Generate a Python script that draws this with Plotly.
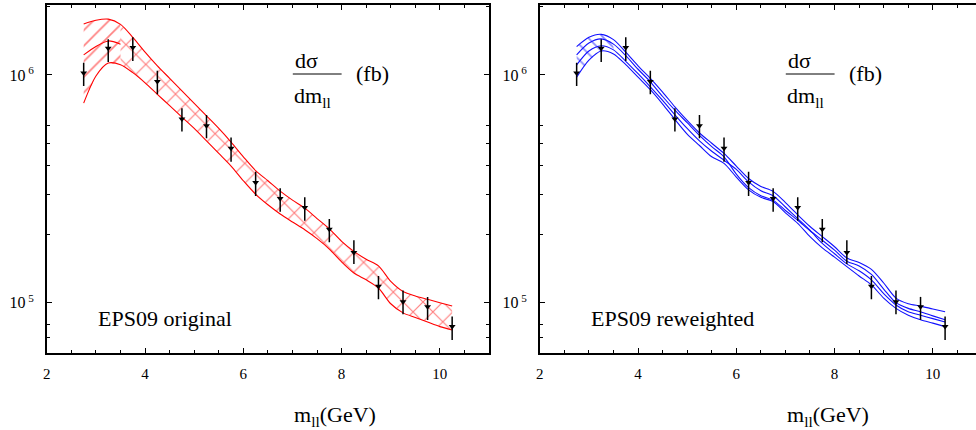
import plotly.graph_objects as go

# ---------------- data ----------------
x_data = [2.75, 3.25, 3.75, 4.25, 4.75, 5.25, 5.75, 6.25, 6.75, 7.25, 7.75, 8.25, 8.75, 9.25, 9.75, 10.25]
y_data = [1.02e6, 1.31e6, 1.32e6, 9.35e5, 6.41e5, 5.98e5, 4.76e5, 3.37e5, 2.87e5, 2.62e5, 2.10e5, 1.66e5, 1.18e5, 1.01e5, 9.6e4, 7.85e4]
err_up = [1.1e5, 1.25e5, 1.45e5, 1.07e5, 7.3e4, 6.9e4, 5.5e4, 3.9e4, 3.1e4, 2.8e4, 2.3e4, 2.2e4, 1.3e4, 1.2e4, 1.0e4, 8.5e3]
err_down = [1.25e5, 1.7e5, 1.7e5, 1.13e5, 7.7e4, 7.1e4, 6.0e4, 4.3e4, 3.6e4, 3.3e4, 2.6e4, 1.8e4, 1.45e4, 1.2e4, 1.2e4, 1.0e4]

x_band = [2.75, 3.0, 3.25, 3.5, 3.75, 4.0, 4.25, 4.5, 4.75, 5.0, 5.25, 5.5, 5.75, 6.0, 6.25, 6.5,
          6.75, 7.0, 7.25, 7.5, 7.75, 8.0, 8.25, 8.5, 8.75, 9.0, 9.25, 9.5, 9.75, 10.0, 10.25]

# EPS09 original (red band)
orig_upper = [1.675e6, 1.738e6, 1.758e6, 1.667e6, 1.462e6, 1.259e6, 1.096e6, 9.66e5, 8.51e5, 7.50e5,
              6.61e5, 5.82e5, 5.07e5, 4.37e5, 3.80e5, 3.43e5, 3.09e5, 2.82e5, 2.60e5, 2.34e5,
              2.11e5, 1.86e5, 1.68e5, 1.55e5, 1.45e5, 1.24e5, 1.12e5, 1.07e5, 1.035e5, 1.0e5, 9.66e4]
orig_lower = [7.52e5, 9.89e5, 1.127e6, 1.109e6, 1.023e6, 9.23e5, 8.22e5, 7.33e5, 6.53e5, 5.82e5,
              5.13e5, 4.52e5, 3.98e5, 3.43e5, 2.99e5, 2.69e5, 2.45e5, 2.26e5, 2.09e5, 1.91e5,
              1.72e5, 1.51e5, 1.35e5, 1.26e5, 1.16e5, 9.89e4, 9.02e4, 8.61e4, 8.22e4, 7.85e4, 7.59e4]
orig_mid_x = [2.75, 3.0, 3.25, 3.5]
orig_mid = [1.225e6, 1.334e6, 1.41e6, 1.365e6]

# EPS09 reweighted (blue curves)
rew_a = [1.330e6, 1.462e6, 1.507e6, 1.429e6, 1.259e6, 1.096e6, 9.66e5, 8.41e5, 7.24e5, 6.31e5,
         5.56e5, 5.01e5, 4.52e5, 3.98e5, 3.51e5, 3.24e5, 3.08e5, 2.75e5, 2.43e5, 2.16e5,
         1.95e5, 1.76e5, 1.57e5, 1.50e5, 1.40e5, 1.22e5, 1.047e5, 9.89e4, 9.66e4, 9.38e4, 9.12e4]
rew_b = [1.225e6, 1.380e6, 1.439e6, 1.365e6, 1.216e6, 1.059e6, 9.33e5, 8.04e5, 7.00e5, 6.17e5,
         5.43e5, 4.84e5, 4.37e5, 3.67e5, 3.20e5, 2.95e5, 2.82e5, 2.54e5, 2.30e5, 2.07e5,
         1.88e5, 1.70e5, 1.52e5, 1.45e5, 1.33e5, 1.148e5, 1.0e5, 9.44e4, 9.12e4, 8.75e4, 8.41e4]
rew_c = [1.107e6, 1.274e6, 1.343e6, 1.288e6, 1.148e6, 1.012e6, 8.87e5, 7.73e5, 6.68e5, 5.82e5,
         5.13e5, 4.62e5, 4.22e5, 3.85e5, 3.39e5, 3.10e5, 2.95e5, 2.63e5, 2.34e5, 2.08e5,
         1.82e5, 1.64e5, 1.48e5, 1.38e5, 1.259e5, 1.096e5, 9.77e4, 9.12e4, 8.81e4, 8.51e4, 8.22e4]
rew_d = [9.77e5, 1.161e6, 1.274e6, 1.236e6, 1.109e6, 9.77e5, 8.61e5, 7.45e5, 6.38e5, 5.50e5,
         4.90e5, 4.37e5, 4.09e5, 3.56e5, 3.13e5, 2.90e5, 2.78e5, 2.48e5, 2.23e5, 1.95e5,
         1.74e5, 1.585e5, 1.44e5, 1.31e5, 1.197e5, 1.047e5, 9.44e4, 8.81e4, 8.41e4, 8.13e4, 7.85e4]

x_major = [2, 4, 6, 8, 10]
y_major = [1e5, 1e6]
y_major_text = ["10<sup> 5</sup>", "10<sup> 6</sup>"]
y_minor = [7e4, 8e4, 2e5, 3e5, 4e5, 5e5, 6e5, 2e6]

panel_labels = ["EPS09 original", "EPS09 reweighted"]

# ---------------- figure ----------------
W, H = 976, 430
FONT = "Liberation Serif, Times New Roman, Times, DejaVu Serif, serif"
RED = "#ff0000"
BLUE = "#1010ff"

fig = go.Figure()


def polygon(xs, up, lo):
    return list(xs) + list(xs[::-1]), list(up) + list(lo[::-1])


# --- left panel: hatched red band ---
n_split = 3  # x = 3.5
px, py = polygon(x_band[:n_split + 1], orig_upper[:n_split + 1], orig_lower[:n_split + 1])
fig.add_trace(go.Scatter(x=px, y=py, fill="toself", mode="lines", line=dict(width=0),
                         fillcolor="rgba(255,255,255,0)",
                         fillpattern=dict(shape="/", fgcolor=RED, bgcolor="rgba(255,255,255,0)",
                                          size=11, solidity=0.15),
                         hoverinfo="skip", showlegend=False, xaxis="x", yaxis="y"))
px, py = polygon(x_band[n_split:], orig_upper[n_split:], orig_lower[n_split:])
fig.add_trace(go.Scatter(x=px, y=py, fill="toself", mode="lines", line=dict(width=0),
                         fillcolor="rgba(255,255,255,0)",
                         fillpattern=dict(shape="x", fgcolor=RED, bgcolor="rgba(255,255,255,0)",
                                          size=14, solidity=0.16),
                         hoverinfo="skip", showlegend=False, xaxis="x", yaxis="y"))
for yy in (orig_upper, orig_lower):
    fig.add_trace(go.Scatter(x=x_band, y=yy, mode="lines",
                             line=dict(color=RED, width=1.1, shape="spline", smoothing=0.8),
                             hoverinfo="skip", showlegend=False, xaxis="x", yaxis="y"))
fig.add_trace(go.Scatter(x=orig_mid_x, y=orig_mid, mode="lines",
                         line=dict(color=RED, width=1.1, shape="spline", smoothing=0.8),
                         hoverinfo="skip", showlegend=False, xaxis="x", yaxis="y"))

# --- right panel: blue curves ---
n_b = 3
px, py = polygon(x_band[:n_b + 1], rew_a[:n_b + 1], rew_d[:n_b + 1])
fig.add_trace(go.Scatter(x=px, y=py, fill="toself", mode="lines", line=dict(width=0),
                         fillcolor="rgba(255,255,255,0)",
                         fillpattern=dict(shape="\\", fgcolor=BLUE, bgcolor="rgba(255,255,255,0)",
                                          size=11, solidity=0.15),
                         hoverinfo="skip", showlegend=False, xaxis="x2", yaxis="y2"))
for yy in (rew_a, rew_b, rew_c, rew_d):
    fig.add_trace(go.Scatter(x=x_band, y=yy, mode="lines",
                             line=dict(color=BLUE, width=1.1, shape="spline", smoothing=0.8),
                             hoverinfo="skip", showlegend=False, xaxis="x2", yaxis="y2"))

# --- data points on both panels ---
for xa, ya in (("x", "y"), ("x2", "y2")):
    fig.add_trace(go.Scatter(
        x=x_data, y=y_data, mode="markers",
        marker=dict(symbol="triangle-down", size=6, color="black"),
        error_y=dict(type="data", symmetric=False, array=err_up, arrayminus=err_down,
                     color="black", thickness=1.5, width=0),
        showlegend=False, xaxis=xa, yaxis=ya))

# ---------------- axes ----------------
x_dom_l = [43 / W, 487 / W]
x_dom_r = [538 / W, 1.0]
y_dom = [1 - 353 / H, 1 - 5 / H]
y_rng = [4.779, 6.307]

common = dict(showline=True, linecolor="black", linewidth=1.5, ticks="inside", ticklen=5,
              tickwidth=1, tickcolor="black", showgrid=False, zeroline=False)

xa_common = dict(common, tickvals=x_major, ticklabelstandoff=6,
                 tickfont=dict(family=FONT, size=15, color="black"),
                 minor=dict(dtick=0.5, tick0=2, ticks="inside", ticklen=3, tickcolor="black",
                            tickwidth=1, showgrid=False))
ya_common = dict(common, type="log", range=y_rng, domain=y_dom, tickvals=y_major,
                 ticktext=y_major_text, ticklabelstandoff=8,
                 tickfont=dict(family=FONT, size=16, color="black"),
                 minor=dict(tickvals=y_minor, ticks="inside", ticklen=3, tickcolor="black",
                            tickwidth=1, showgrid=False))

fig.update_layout(
    width=W, height=H,
    margin=dict(l=0, r=0, t=0, b=0),
    paper_bgcolor="white", plot_bgcolor="white",
    showlegend=False,
    font=dict(family=FONT, color="black"),
    xaxis=dict(xa_common, domain=x_dom_l, range=[2, 11], mirror="ticks", anchor="y"),
    yaxis=dict(ya_common, mirror="ticks", anchor="x"),
    xaxis2=dict(xa_common, domain=x_dom_r, range=[2, 2 + (W - 538) / 49.33], mirror="ticks", anchor="y2"),
    yaxis2=dict(ya_common, mirror=False, anchor="x2"),
)

# ---------------- texts ----------------
annots = []
shapes = []
for i, off in enumerate((0, 495)):
    tf = dict(family=FONT, size=22, color="black")
    annots.append(dict(x=(290 + off) / W, y=1 - 60 / H, xref="paper", yref="paper",
                       text="dσ", showarrow=False, xanchor="left", yanchor="middle", font=tf))
    annots.append(dict(x=(289 + off) / W, y=1 - 97 / H, xref="paper", yref="paper",
                       text="dm<sub>ll</sub>", showarrow=False, xanchor="left", yanchor="middle", font=tf))
    annots.append(dict(x=(351 + off) / W, y=1 - 73 / H, xref="paper", yref="paper",
                       text="(fb)", showarrow=False, xanchor="left", yanchor="middle", font=tf))
    shapes.append(dict(type="line", xref="paper", yref="paper",
                       x0=(290 + off) / W, x1=(339 + off) / W, y0=1 - 74 / H, y1=1 - 74 / H,
                       line=dict(color="black", width=1)))
    annots.append(dict(x=(92 + off) / W, y=1 - 318 / H, xref="paper", yref="paper",
                       text=panel_labels[i], showarrow=False, xanchor="left", yanchor="middle", font=tf))
    annots.append(dict(x=(289 + off) / W, y=1 - 416 / H, xref="paper", yref="paper",
                       text="m<sub>ll</sub>(GeV)", showarrow=False, xanchor="left", yanchor="middle", font=tf))

fig.update_layout(annotations=annots, shapes=shapes)

fig.write_html("out.html", config={"displayModeBar": False},
               post_script="document.body.style.margin='0';document.body.style.overflow='hidden';")
